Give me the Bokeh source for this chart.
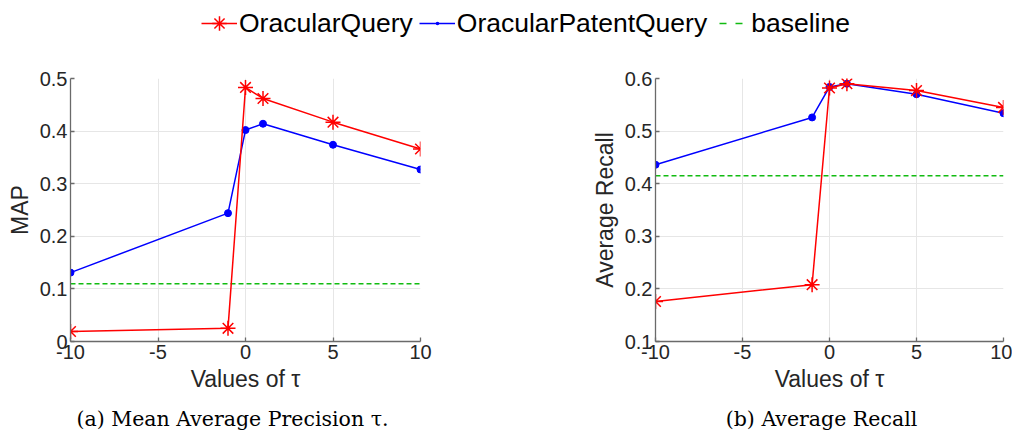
from bokeh.plotting import figure
from bokeh.layouts import column, row
from bokeh.models import Range1d, FixedTicker, Legend, LegendItem
from bokeh.embed import file_html
from bokeh.resources import INLINE
from bokeh.core.properties import value

# ---- data ----
tau = [-10, -1, 0, 1, 5, 10]
map_oracular = [0.019, 0.025, 0.483, 0.462, 0.417, 0.366]
map_patent = [0.131, 0.244, 0.402, 0.414, 0.374, 0.327]
map_baseline = 0.110
recall_oracular = [0.176, 0.208, 0.582, 0.590, 0.577, 0.545]
recall_patent = [0.436, 0.526, 0.584, 0.590, 0.570, 0.534]
recall_baseline = 0.415

x_ticks = [-10, -5, 0, 5, 10]
x_tick_labels = ["-10", "-5", "0", "5", "10"]
map_ticks = [0, 0.1, 0.2, 0.3, 0.4, 0.5]
map_tick_labels = ["0", "0.1", "0.2", "0.3", "0.4", "0.5"]
recall_ticks = [0.1, 0.2, 0.3, 0.4, 0.5, 0.6]
recall_tick_labels = ["0.1", "0.2", "0.3", "0.4", "0.5", "0.6"]
series_names = ["OracularQuery", "OracularPatentQuery", "baseline"]
captions = ["(a) Mean Average Precision \u03c4.", "(b) Average Recall"]
x_label = "Values of \u03c4"
y_labels = ["MAP", "Average Recall"]

RED = "#ff0000"
BLUE = "#0000ff"
GREEN = "#11bb11"
SANS = "Liberation Sans"
SERIF = "DejaVu Serif"
AX = "#262626"
AXLINE = "#6a6a6a"


def panel(yvals_o, yvals_p, base, yticks, ytick_labels, ylabel, width, bl, br):
    p = figure(width=width, height=338, output_backend="svg", toolbar_location=None,
               x_range=Range1d(x_ticks[0], x_ticks[-1]),
               y_range=Range1d(yticks[0], yticks[-1]),
               min_border_left=bl, min_border_right=br, min_border_top=22, min_border_bottom=52)
    p.outline_line_color = None
    p.background_fill_color = "white"
    p.border_fill_color = "white"
    p.xaxis.ticker = FixedTicker(ticks=x_ticks)
    p.yaxis.ticker = FixedTicker(ticks=yticks)
    p.xaxis.major_label_overrides = dict(zip(x_ticks, x_tick_labels))
    p.yaxis.major_label_overrides = dict(zip(yticks, ytick_labels))
    for ax in [p.xaxis[0], p.yaxis[0]]:
        ax.axis_line_color = AXLINE
        ax.axis_line_width = 1.3
        ax.major_tick_line_color = AXLINE
        ax.major_tick_line_width = 1.3
        ax.major_tick_in = 4
        ax.major_tick_out = 0
        ax.minor_tick_line_color = None
        ax.major_label_text_font = SANS
        ax.major_label_text_font_size = "20px"
        ax.major_label_text_color = AX
        ax.axis_label_text_font = SANS
        ax.axis_label_text_font_size = "23px"
        ax.axis_label_text_font_style = "normal"
        ax.axis_label_text_color = AX
    p.xaxis.major_label_standoff = 3
    p.xaxis.axis_label_standoff = 4
    p.yaxis.major_label_standoff = 3
    p.yaxis.axis_label_standoff = 4
    p.xaxis.axis_label = x_label
    p.yaxis.axis_label = ylabel
    p.grid.grid_line_color = "#e6e6e6"
    p.grid.grid_line_width = 1

    p.line(x=[x_ticks[0], x_ticks[-1]], y=[base, base], line_color=GREEN,
           line_width=1.5, line_dash="5 3")
    p.line(x=tau, y=yvals_p, line_color=BLUE, line_width=1.5)
    p.scatter(x=tau, y=yvals_p, marker="circle", size=7, fill_color=BLUE, line_color=BLUE)
    p.line(x=tau, y=yvals_o, line_color=RED, line_width=1.5)
    p.scatter(x=tau, y=yvals_o, marker="asterisk", size=15, line_color=RED, line_width=1.5)
    return p


p1 = panel(map_oracular, map_patent, map_baseline, map_ticks, map_tick_labels,
           y_labels[0], 560, 70, 140)
p2 = panel(recall_oracular, recall_patent, recall_baseline, recall_ticks, recall_tick_labels,
           y_labels[1], 452, 95, 9)

# ---- legend strip ----
pl = figure(width=1012, height=56, output_backend="svg", toolbar_location=None,
            x_range=Range1d(0, 1), y_range=Range1d(0, 1), min_border=0)
pl.axis.visible = False
pl.grid.visible = False
pl.outline_line_color = None
off = dict(x=[-5], y=[-5])
r1l = pl.line(line_color=RED, line_width=1.5, **off)
r1m = pl.scatter(marker="asterisk", size=15, line_color=RED, line_width=1.5, **off)
r2l = pl.line(line_color=BLUE, line_width=1.5, **off)
r2m = pl.scatter(marker="dot", size=7, fill_color=BLUE, line_color=BLUE, line_width=5, **off)
r3l = pl.line(line_color=GREEN, line_width=1.5, line_dash="7 9", line_dash_offset=-6, **off)
leg = Legend(items=[LegendItem(label=series_names[0], renderers=[r1l, r1m]),
                    LegendItem(label=series_names[1], renderers=[r2l, r2m]),
                    LegendItem(label=series_names[2], renderers=[r3l])],
             orientation="horizontal", location=(201, 15), padding=0, margin=0,
             spacing=6, label_standoff=2, glyph_width=36, glyph_height=36,
             label_text_font=SANS, label_text_font_size="26.5px", label_text_color="black",
             border_line_color=None, background_fill_alpha=0)
pl.add_layout(leg, "center")

# ---- captions strip ----
pc = figure(width=1012, height=41, output_backend="svg", toolbar_location=None,
            x_range=Range1d(0, 1012), y_range=Range1d(0, 41), min_border=0)
pc.axis.visible = False
pc.grid.visible = False
pc.outline_line_color = None
pc.text(x=[232, 821], y=[17, 17], text=captions, text_align="center",
        text_baseline="middle", text_font=value(SERIF), text_font_size="20.5px",
        text_color="black")

layout = column(pl, row(p1, p2), pc)
open("out.html", "w").write(file_html(layout, INLINE))
